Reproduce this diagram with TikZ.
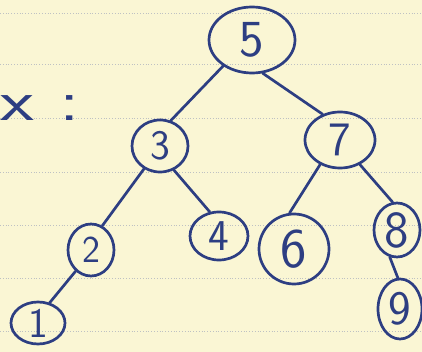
\documentclass[tikz,border=0pt]{standalone}
\usetikzlibrary{shapes.geometric}
\definecolor{paper}{RGB}{250,246,212}
\definecolor{ink}{RGB}{45,62,130}
\definecolor{rule}{RGB}{190,193,195}
\tikzset{
  tn/.style={ellipse, draw=ink, line width=2.7pt, inner sep=0pt, text=ink,
    font=\sffamily},
  edge/.style={draw=ink, line width=2.7pt, line cap=round},
  ruled/.style={draw=rule, line width=0.8pt, dotted}
}
\newcommand{\fs}[1]{\fontsize{#1}{#1}\selectfont}
\begin{document}
\begin{tikzpicture}[x=1pt,y=-1pt]
  \fill[paper] (0,0) rectangle (422,352);
  \useasboundingbox (0,0) rectangle (422,352);
  \foreach \yy in {13,64,118,172,225,278,331}
    \draw[ruled] (0,\yy) -- (422,\yy);
  \node[text=ink, font=\sffamily\fs{58}, xscale=1.35, anchor=west] (lbl) at (-4,108) {x :};
  \node[tn, minimum width=86pt, minimum height=66pt, font=\sffamily\fs{52}] (n5) at (252,40) {5};
  \node[tn, minimum width=56pt, minimum height=52pt, font=\sffamily\fs{42}] (n3) at (160,146) {3};
  \node[tn, minimum width=70pt, minimum height=56pt, font=\sffamily\fs{48}] (n7) at (340,140) {7};
  \node[tn, minimum width=46pt, minimum height=52pt, font=\sffamily\fs{38}] (n2) at (91,250) {2};
  \node[tn, minimum width=58pt, minimum height=48pt, font=\sffamily\fs{44}] (n4) at (219,236) {4};
  \node[tn, minimum width=70pt, minimum height=70pt, font=\sffamily\fs{56}] (n6) at (294,249) {6};
  \node[tn, minimum width=46pt, minimum height=54pt, font=\sffamily\fs{52}] (n8) at (397,230) {8};
  \node[tn, minimum width=54pt, minimum height=42pt, font=\sffamily\fs{42}] (n1) at (38,323) {1};
  \node[tn, minimum width=44pt, minimum height=60pt, font=\sffamily\fs{48}] (n9) at (400,309) {9};
  \draw[edge] (n5.222) -- (n3.67);
  \draw[edge] (n5.288) -- (n7.124);
  \draw[edge] (n3.235) -- (n2.65);
  \draw[edge] (n3.300) -- (n4.111);
  \draw[edge] (n7.231) -- (n6.97);
  \draw[edge] (n7.309) -- (n8.99);
  \draw[edge] (n2.234) -- (n1.60);
  \draw[edge] (n8.255) -- (n9.94);
\end{tikzpicture}
\end{document}
